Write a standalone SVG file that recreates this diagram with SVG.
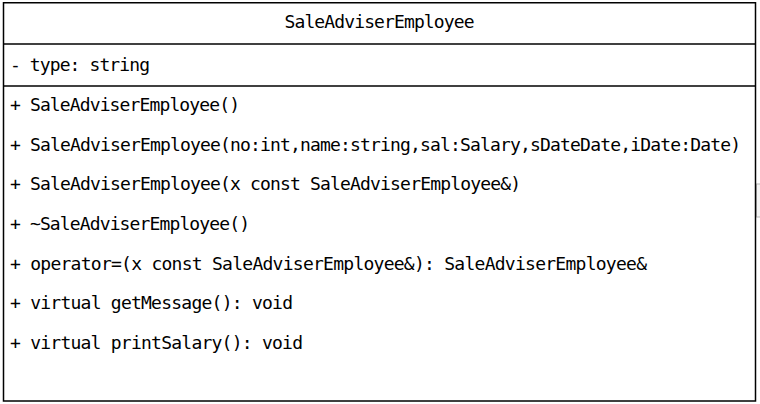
<svg xmlns="http://www.w3.org/2000/svg" width="760" height="404" viewBox="0 0 760 404">
  <style>
    .box { fill: #ffffff; stroke: #000000; stroke-width: 1.5; }
    .div { stroke: #000000; stroke-width: 1.5; }
    .t { font-family: "DejaVu Sans Mono", "Liberation Mono", monospace; font-size: 18px; fill: #000000; }
  </style>
  <rect x="0" y="0" width="760" height="404" fill="#ffffff"/>
  <rect x="756.5" y="184" width="4" height="33" fill="#f4f4f4" stroke="#b8b8b8" stroke-width="1"/>
  <g id="connectors"></g>
  <g id="SaleAdviserEmployee">
    <rect class="box" x="3.5" y="2.75" width="752" height="398.25"/>
    <line class="div" x1="3.5" y1="44" x2="755.5" y2="44"/>
    <line class="div" x1="3.5" y1="86" x2="755.5" y2="86"/>
    <text class="t" x="379.5" y="28" text-anchor="middle" textLength="190" lengthAdjust="spacing">SaleAdviserEmployee</text>
    <text class="t" x="10" y="71" textLength="140" lengthAdjust="spacing">- type: string</text>
    <text class="t" x="10" y="111" textLength="230" lengthAdjust="spacing">+ SaleAdviserEmployee()</text>
    <text class="t" x="10" y="150.7" textLength="731" lengthAdjust="spacing">+ SaleAdviserEmployee(no:int,name:string,sal:Salary,sDateDate,iDate:Date)</text>
    <text class="t" x="10" y="190.3" textLength="511" lengthAdjust="spacing">+ SaleAdviserEmployee(x const SaleAdviserEmployee&amp;)</text>
    <text class="t" x="10" y="230" textLength="240" lengthAdjust="spacing">+ ~SaleAdviserEmployee()</text>
    <text class="t" x="10" y="269.7" textLength="637" lengthAdjust="spacing">+ operator=(x const SaleAdviserEmployee&amp;): SaleAdviserEmployee&amp;</text>
    <text class="t" x="10" y="309.3" textLength="283" lengthAdjust="spacing">+ virtual getMessage(): void</text>
    <text class="t" x="10" y="349" textLength="293" lengthAdjust="spacing">+ virtual printSalary(): void</text>
  </g>
</svg>
